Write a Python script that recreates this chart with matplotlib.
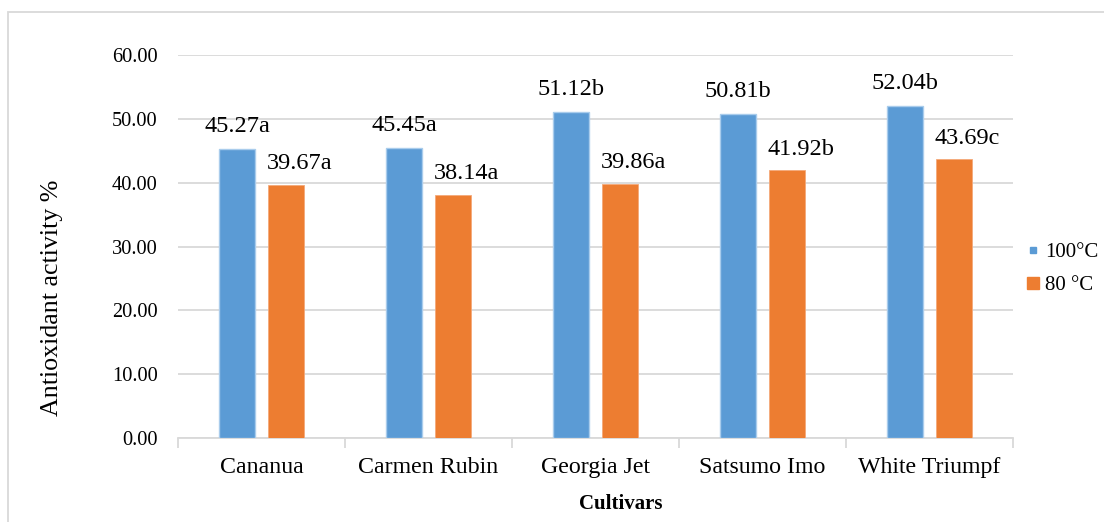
# actividad antioxidante por cultivar a dos temperaturas
import numpy as np
import matplotlib.pyplot as plt
from matplotlib.patches import Rectangle
from matplotlib.lines import Line2D

cultivares = ['Cananua', 'Carmen Rubin', 'Georgia Jet', 'Satsumo Imo', 'White Triumpf']
act_100 = [45.27, 45.45, 51.12, 50.81, 52.04]
act_80 = [39.67, 38.14, 39.86, 41.92, 43.69]
letras_100 = ['a', 'a', 'b', 'b', 'b']
letras_80 = ['a', 'a', 'a', 'b', 'c']

plt.rcParams['font.family'] = ['Liberation Serif', 'DejaVu Serif']

azul = '#5B9BD5'
naranja = '#ED7D31'
gris = '#D9D9D9'

fig = plt.figure(figsize=(11.04, 5.22), dpi=100)
ax = fig.add_axes([178 / 1104, 1 - 438 / 522, (1013 - 178) / 1104, (438 - 55) / 522])

# marco del grafico
fig.patches.append(Rectangle((8 / 1104, -0.1), 1.2, 1 - 12 / 522 + 0.1,
                             transform=fig.transFigure, fill=False,
                             edgecolor=gris, linewidth=1.3))

x = np.arange(len(cultivares))
ancho = 0.215
desp = 0.145
ax.bar(x - desp, act_100, ancho, color=azul, edgecolor='#A9CCEC', linewidth=1, zorder=3)
ax.bar(x + desp, act_80, ancho, color=naranja, edgecolor='#F4A97A', linewidth=0.6, zorder=3)

# etiquetas con valor y letra (las de 80 °C arrancan en el borde izquierdo de la barra)
for i in range(len(cultivares)):
    ax.annotate(f'{act_100[i]:.2f}{letras_100[i]}', (x[i] - desp, act_100[i]),
                xytext=(0, 12), textcoords='offset points', ha='center',
                va='baseline', fontsize=17.5)
    ax.annotate(f'{act_80[i]:.2f}{letras_80[i]}', (x[i] + desp - ancho / 2, act_80[i]),
                xytext=(-1, 11), textcoords='offset points', ha='left',
                va='baseline', fontsize=17.5)

ax.set_xlim(-0.5, len(cultivares) - 0.5)
ax.set_ylim(0, 60)
ax.set_yticks(np.arange(0, 61, 10))
ax.set_yticklabels([f'{v:.2f}' for v in np.arange(0, 61, 10)], fontsize=14.7)
ax.yaxis.grid(True, color=gris, linewidth=1.3, zorder=0)
ax.tick_params(axis='y', length=0, pad=14.5)

ax.set_xticks(x)
ax.set_xticklabels(cultivares, fontsize=17.2)
ax.tick_params(axis='x', length=0, pad=14)
ax.set_xticks(np.arange(-0.5, len(cultivares)), minor=True)
ax.tick_params(axis='x', which='minor', length=7, width=1.3, color=gris)

for lado in ['top', 'right', 'left']:
    ax.spines[lado].set_visible(False)
ax.spines['bottom'].set_color(gris)
ax.spines['bottom'].set_linewidth(1.3)

fig.text(52 / 1104, 1 - 298 / 522, 'Antioxidant activity %', rotation=90,
         ha='center', va='center', fontsize=18.7)
fig.text(621 / 1104, 1 - 504 / 522, 'Cultivars', ha='center', va='center',
         fontsize=15, fontweight='bold')

# leyenda
marcas = [Line2D([], [], marker='s', linestyle='', color=azul, markersize=4),
          Line2D([], [], marker='s', linestyle='', color=naranja, markersize=8)]
fig.legend(marcas, ['100°C', '80 °C'], loc='center left',
           bbox_to_anchor=(1025 / 1104, 1 - 269 / 522), frameon=False,
           borderpad=0, borderaxespad=0,
           fontsize=15, handlelength=0.8, handletextpad=0.15, labelspacing=0.65)

fig.savefig('out.png', dpi=100)
